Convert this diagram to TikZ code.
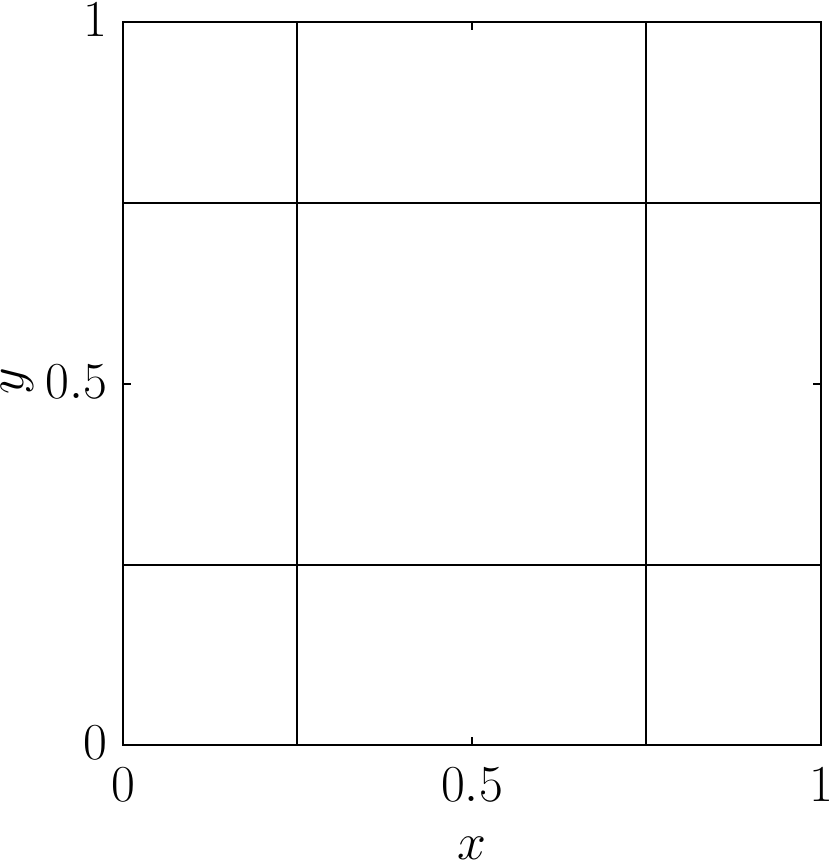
\documentclass[tikz,border=0pt]{standalone}
\tikzset{
  lbl/.style={inner sep=0pt, font=\fontsize{20.4}{24}\selectfont},
  gridln/.style={line width=0.6pt, black},
  axbox/.style={line width=0.8pt, black},
  tck/.style={line width=0.6pt, black}
}
\begin{document}
\begin{tikzpicture}[x=0.4pt,y=-0.4pt]
\useasboundingbox (0,0) rectangle (830,866);
% grid lines
\draw[gridln] (297,22) -- (297,745);
\draw[gridln] (646,22) -- (646,745);
\draw[gridln] (123,203) -- (821,203);
\draw[gridln] (123,565) -- (821,565);
% axis box
\draw[axbox] (123,22) rectangle (821,745);
% ticks
\draw[tck] (472,745) -- (472,737);
\draw[tck] (472,22) -- (472,30);
\draw[tck] (123,384) -- (131,384);
\draw[tck] (821,384) -- (813,384);
% tick labels
\node[lbl, anchor=east] (y1) at (108,20) {$1$};
\node[lbl, anchor=east] (y05) at (108,382) {$0.5$};
\node[lbl, anchor=east] (y0) at (108,743) {$0$};
\node[lbl] (x0) at (123,785) {$0$};
\node[lbl] (x05) at (472,785) {$0.5$};
\node[lbl] (x1) at (821,785) {$1$};
% axis labels
\node[lbl] (xl) at (472,848) {$x$};
\node[lbl, rotate=90] (yl) at (17,381) {$y$};
\end{tikzpicture}
\end{document}
